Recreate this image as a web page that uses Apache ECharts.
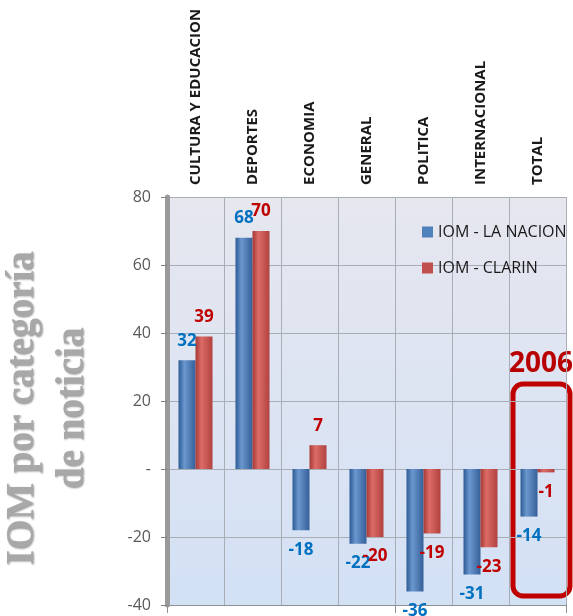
<!DOCTYPE html>
<html><head><meta charset="utf-8">
<script src="https://cdn.jsdelivr.net/npm/echarts@6/dist/echarts.min.js"></script>
<style>html,body{margin:0;padding:0;background:#fff}#c{width:573px;height:616px}</style>
</head><body><div id="c"></div><script>
const categories = ['CULTURA Y EDUCACION','DEPORTES','ECONOMIA','GENERAL','POLITICA','INTERNACIONAL','TOTAL'];
const laNacion = [32, 68, -18, -22, -36, -31, -14];
const clarin = [39, 70, 7, -20, -19, -23, -1];
const seriesNames = ['IOM - LA NACION', 'IOM - CLARIN'];
const yMin = -40, yMax = 80, yInterval = 20;
const yTitle = 'IOM por categoría\nde noticia';
const yearLabel = '2006';

const FONT = '"Open Sans", sans-serif';
const blueGrad = new echarts.graphic.LinearGradient(0,0,1,0,[
  {offset:0,color:'#2c5a94'},{offset:0.35,color:'#6b97cf'},{offset:1,color:'#345f98'}]);
const redGrad = new echarts.graphic.LinearGradient(0,0,1,0,[
  {offset:0,color:'#a53936'},{offset:0.35,color:'#dc6b66'},{offset:1,color:'#b0423f'}]);

function items(vals){
  return vals.map(v => ({value: v, label: {position: v >= 0 ? 'top' : 'bottom'}}));
}
function lbl(color){
  return {show:true, color:color, fontFamily:FONT, fontWeight:'bold', fontSize:17, distance:11};
}

const chart = echarts.init(document.getElementById('c'));
chart.setOption({
  animation:false,
  grid:{left:167, right:7, top:197, bottom:11, show:true, borderWidth:0,
    backgroundColor:new echarts.graphic.LinearGradient(0,0,0,1,[
      {offset:0,color:'#e6e7ef'},{offset:1,color:'#d3e1f5'}])},
  legend:{orient:'vertical', left:417, top:219, itemWidth:11, itemHeight:11, itemGap:20,
    icon:'rect', textStyle:{fontFamily:FONT, fontSize:16, color:'#1a1a1a'},
    data:[{name:seriesNames[0], itemStyle:{color:'#4f81bd'}},{name:seriesNames[1], itemStyle:{color:'#c0504d'}}]},
  xAxis:[
    {type:'category', position:'top', data:categories,
      axisLine:{show:false}, axisTick:{show:false},
      axisLabel:{rotate:90, margin:12, fontFamily:FONT, fontWeight:'bold', fontSize:15, color:'#1a1a1a', interval:0},
      splitLine:{show:true, lineStyle:{color:'#a9adb6', width:1}}},
    {type:'category', position:'bottom', data:categories,
      axisLine:{show:true, onZero:true, lineStyle:{color:'#8e9096', width:1}},
      axisTick:{show:true, length:8, lineStyle:{color:'#8e9096'}},
      axisLabel:{show:false}, splitLine:{show:false}}
  ],
  yAxis:{type:'value', min:yMin, max:yMax, interval:yInterval,
    axisLine:{show:true, lineStyle:{color:'#9a9a9a', width:5}},
    axisTick:{show:true, length:6, lineStyle:{color:'#808080'}},
    axisLabel:{margin:16, fontFamily:FONT, fontSize:16, color:'#595959',
      formatter:v => v === 0 ? '-' : String(v)},
    splitLine:{show:true, lineStyle:{color:'#a9adb6', width:1}}},
  series:[
    {name:seriesNames[0], type:'bar', data:items(laNacion), barWidth:17, barGap:'0%',
      itemStyle:{color:blueGrad}, label:lbl('#0070c0')},
    {name:seriesNames[1], type:'bar', data:items(clarin), barWidth:17,
      itemStyle:{color:redGrad}, label:lbl('#c00000')}
  ],
  graphic:[
    {type:'text', x:48, y:408, rotation:Math.PI/2,
      style:{text:yTitle, font:'bold 39px "Liberation Serif", serif', lineHeight:50,
        fill:'#a8a8a8', align:'center', verticalAlign:'middle',
        textShadowColor:'rgba(80,80,80,0.6)', textShadowBlur:2, textShadowOffsetX:1, textShadowOffsetY:1}},
    {type:'rect', shape:{x:513, y:384, width:57, height:212, r:10},
      style:{fill:'none', stroke:'#c00000', lineWidth:5}},
    {type:'text', x:541, y:364,
      style:{text:yearLabel, font:'bold 28px ' + FONT, fill:'#b80000', align:'center', verticalAlign:'middle'}}
  ]
});
</script></body></html>
